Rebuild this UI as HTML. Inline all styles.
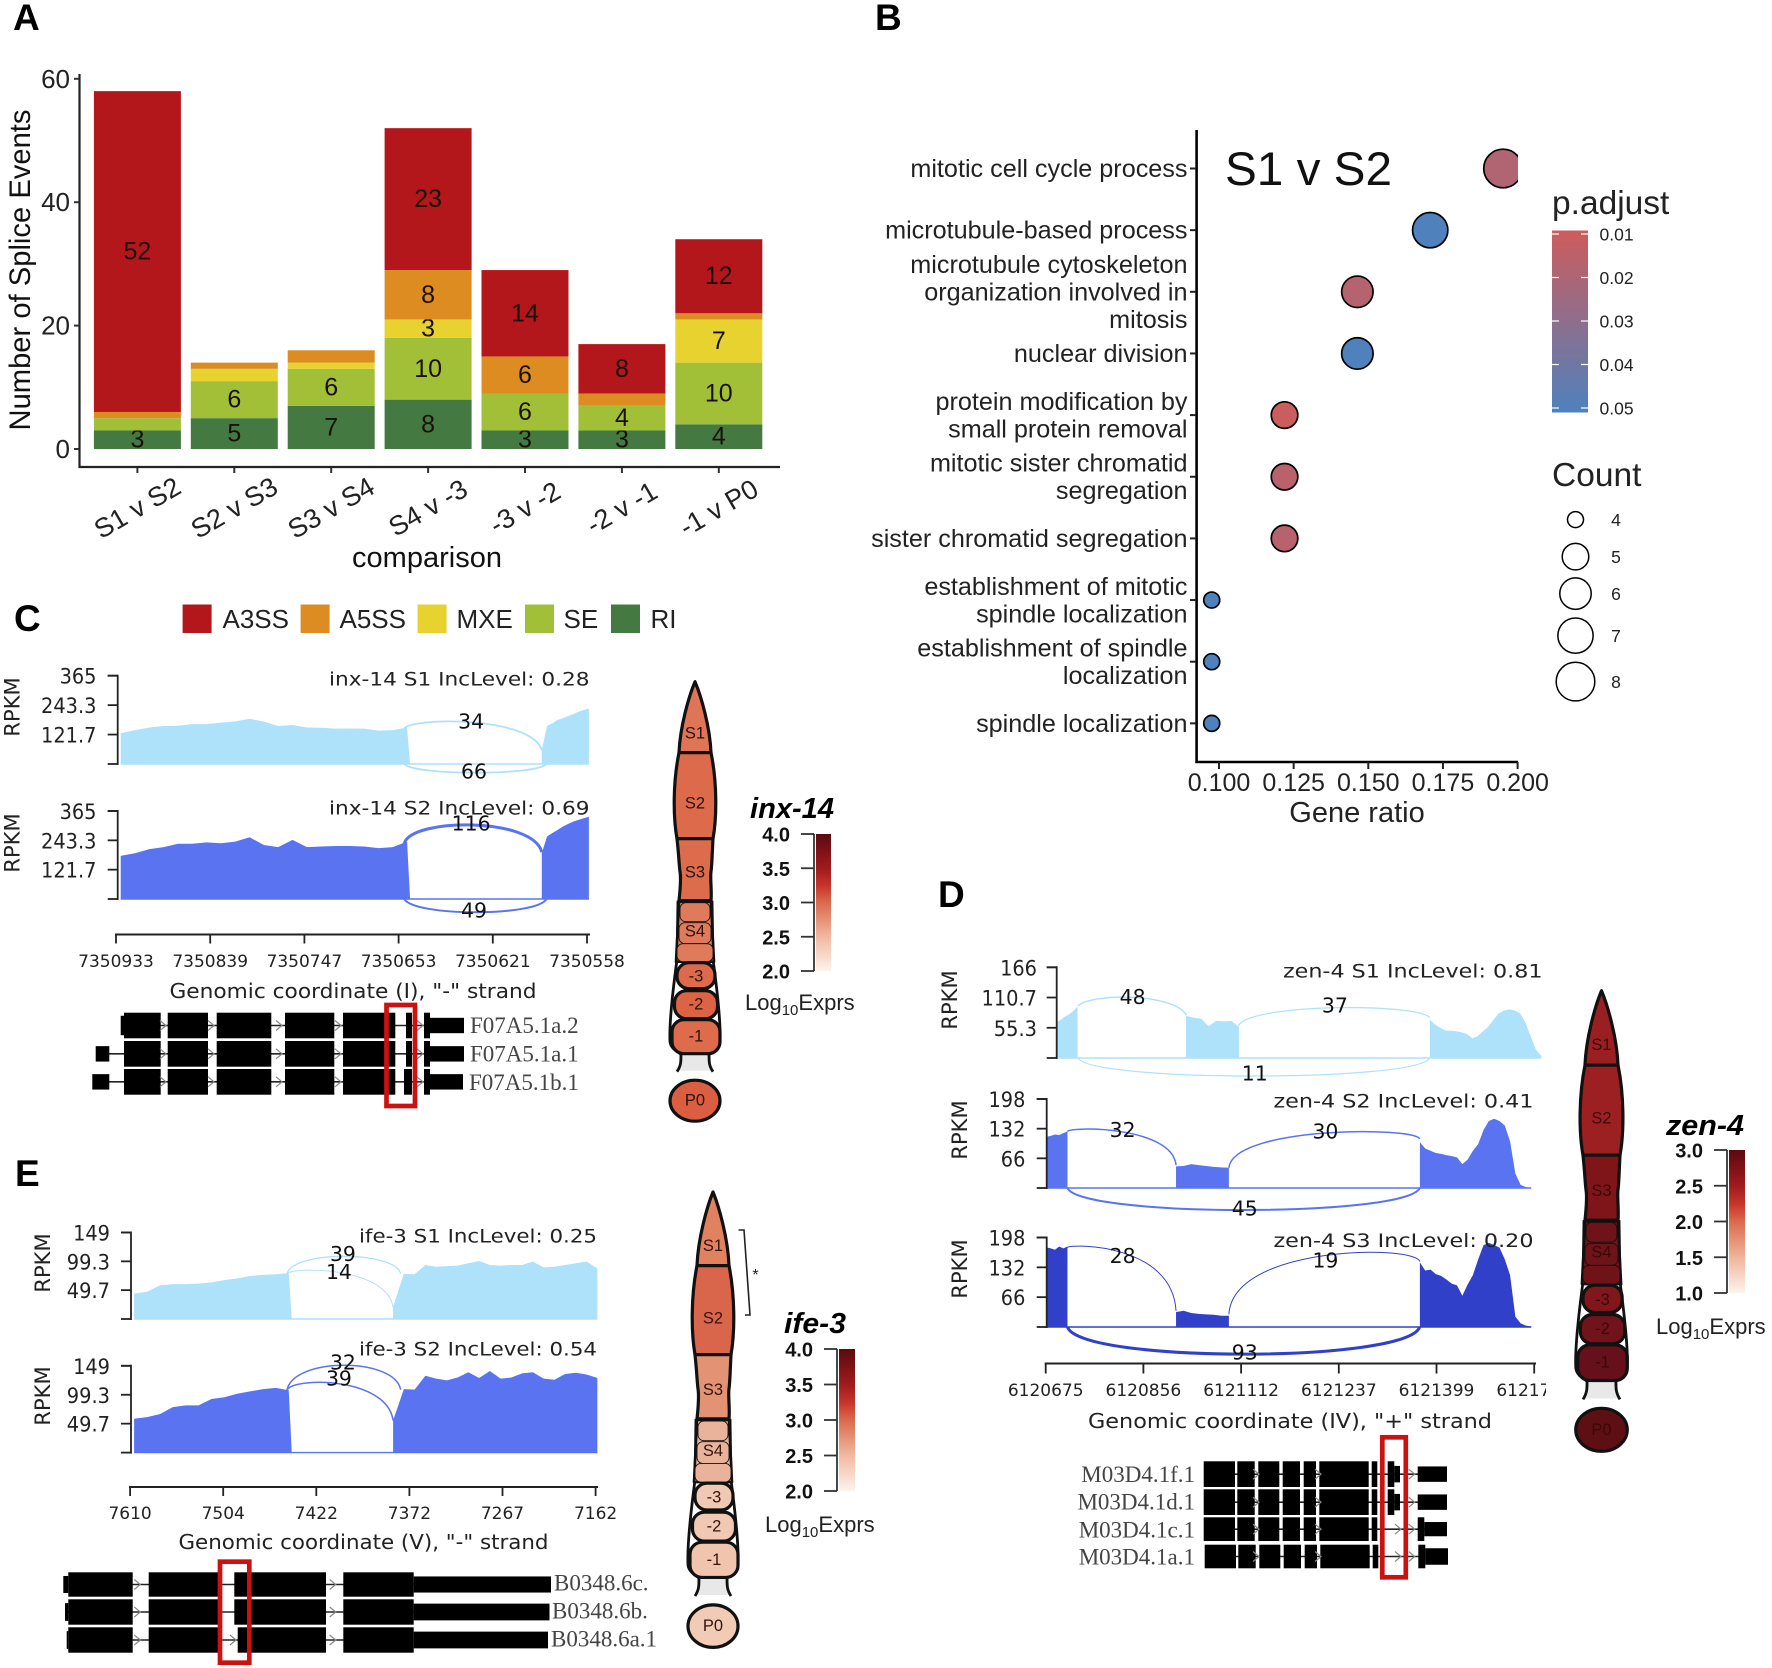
<!DOCTYPE html>
<html lang="en">
<head>
<meta charset="utf-8">
<title>Splice events figure</title>
<style>
html,body{margin:0;padding:0;background:#fff;}
#figure{display:block;width:1772px;height:1668px;}
</style>
</head>
<body>
<svg id="figure" xmlns="http://www.w3.org/2000/svg" width="1772" height="1668" viewBox="0 0 1772 1668">
<defs>
<linearGradient id="pAdjustGradient" x1="0" y1="0" x2="0" y2="1"><stop offset="0" stop-color="#cd5c5c"/><stop offset="1" stop-color="#4f81bd"/></linearGradient>
<linearGradient id="exprGradient" x1="0" y1="0" x2="0" y2="1"><stop offset="0" stop-color="#5a0a10"/><stop offset=".25" stop-color="#a01a1e"/><stop offset=".38" stop-color="#c8352b"/><stop offset=".5" stop-color="#da6a4e"/><stop offset=".75" stop-color="#f0b9a0"/><stop offset="1" stop-color="#fdf3ed"/></linearGradient>
<linearGradient id="exprGradientZen" x1="0" y1="0" x2="0" y2="1"><stop offset="0" stop-color="#5a0a10"/><stop offset=".25" stop-color="#a01a1e"/><stop offset=".38" stop-color="#c8352b"/><stop offset=".5" stop-color="#da6a4e"/><stop offset=".75" stop-color="#efb59b"/><stop offset="1" stop-color="#fdf3ed"/></linearGradient>
<clipPath id="dotClip"><rect x="1196" y="128" width="322" height="640"/></clipPath>
<clipPath id="zenAxisClip"><rect x="1000" y="1375" width="546" height="30"/></clipPath>
<clipPath id="ifeLabelClip"><rect x="540" y="1560" width="117" height="100"/></clipPath>
</defs>
</svg>
<script>
/* ---------- Panel A data ---------- */
const comparisonLabels = ["S1 v S2","S2 v S3","S3 v S4","S4 v -3","-3 v -2","-2 v -1","-1 v P0"];
const riCounts   = [3,5,7,8,3,3,4];
const seCounts   = [2,6,6,10,6,4,10];
const mxeCounts  = [0,2,1,3,0,0,7];
const a5ssCounts = [1,1,2,8,6,2,1];
const a3ssCounts = [52,0,0,23,14,8,12];
const spliceTicks = [0,20,40,60];
const spliceLegendLabels = ["A3SS","A5SS","MXE","SE","RI"];

/* ---------- Panel B data ---------- */
const termLabels = [["mitotic cell cycle process"],["microtubule-based process"],["microtubule cytoskeleton","organization involved in","mitosis"],["nuclear division"],["protein modification by","small protein removal"],["mitotic sister chromatid","segregation"],["sister chromatid segregation"],["establishment of mitotic","spindle localization"],["establishment of spindle","localization"],["spindle localization"]];
const geneCounts = [8,7,6,6,5,5,5,4,4,4];
const geneTotal = 41;
const pAdjustValues = [0.019,0.05,0.018,0.05,0.011,0.016,0.017,0.05,0.05,0.05];
const geneRatioTicks = [0.1,0.125,0.15,0.175,0.2];
const pAdjustTicks = [0.01,0.02,0.03,0.04,0.05];
const countLegend = [4,5,6,7,8];

/* ---------- Panel C data (RPKM per evenly spaced sample) ---------- */
const inxS1Left  = [127,140,151,157,158,165,165,171,176,187,175,157,161,151,150,146,147,146,138,140,151];
const inxS1Right = [58,157,168,182,189,198,206,216,223,230];
const inxS2Left  = [179,190,207,215,229,229,235,231,238,256,224,215,245,215,218,220,220,218,211,215,238];
const inxS2Right = [190,259,273,286,300,311,321,328,335,341];
const inxRpkmTicks = [121.7,243.3,365];
const inxPositions = ["7350933","7350839","7350747","7350653","7350621","7350558"];
const inxS1Junctions = [34,66];
const inxS2Junctions = [116,49];

/* ---------- Panel E data ---------- */
const ifeS1Left  = [44,47,58,60,60,61,63,67,70,74,76,77,79];
const ifeS1Right = [21,78,77,93,90,91,92,96,100,93,92,93,93,99,89,90,93,96,99,87];
const ifeS2Left  = [58,61,66,78,81,81,92,95,101,105,109,111,107];
const ifeS2Right = [55,109,108,132,127,124,129,138,128,140,127,129,136,138,127,125,135,137,134,128];
const ifeRpkmTicks = [49.7,99.3,149];
const ifePositions = ["7610","7504","7422","7372","7267","7162"];
const ifeS1Junctions = [39,14];
const ifeS2Junctions = [32,39];

/* ---------- Panel D data ---------- */
const zenS1Exon1 = [66,70,76,80,86,94];
const zenS1Exon2 = [77,74,72,58,68,67,68,57];
const zenS1Exon3 = [70,61,55,50,50,49,47,44,36,40,49,57,70,82,87,89,87,82,65,40,15,4];
const zenS2Exon1 = [114,116,119,118,122,126];
const zenS2Exon2 = [48,49,53,51,49,47,46,45];
const zenS2Exon3 = [102,88,83,78,76,73,71,68,53,63,83,98,129,149,154,149,139,104,32,7,2,0];
const zenS3Exon1 = [176,174,171,178,174,178];
const zenS3Exon2 = [33,36,31,29,28,27,25,25];
const zenS3Exon3 = [143,125,127,117,113,105,96,92,69,94,115,150,181,186,181,176,150,115,23,8,3,1];
const zenS1RpkmTicks = [55.3,110.7,166];
const zenRpkmTicks = [66,132,198];
const zenPositions = ["6120675","6120856","6121112","6121237","6121399","6121774"];
const zenS1Junctions = [48,37,11];
const zenS2Junctions = [32,30,45];
const zenS3Junctions = [28,19,93];

/* ---------- helpers ---------- */
const NS = "http://www.w3.org/2000/svg";
const root = document.getElementById("figure");
const SANS = '"Liberation Sans", Arial, sans-serif';
const DEJA = '"DejaVu Sans", "Liberation Sans", sans-serif';
const SERIF = '"Liberation Serif", serif';

function add(parent, tag, attrs, name, interactable) {
  const el = document.createElementNS(NS, tag);
  for (const k in attrs) el.setAttribute(k, attrs[k]);
  
  
  parent.appendChild(el);
  return el;
}
function group(parent, name) { return add(parent, "g", {}, name); }
function line(p, x1, y1, x2, y2, stroke, w, name) {
  return add(p, "line", {x1, y1, x2, y2, stroke, "stroke-width": w}, name);
}
function label(p, x, y, str, o, name) {
  const a = {x, y, "font-family": o.family || SANS, "font-size": o.size, fill: o.fill || "#111", "text-anchor": o.anchor || "start"};
  if (o.weight) a["font-weight"] = o.weight;
  if (o.style) a["font-style"] = o.style;
  if (o.central) a["dominant-baseline"] = "central";
  if (o.rotate) a.transform = "rotate(" + o.rotate + " " + x + " " + y + ")";
  if (o.len) { a.textLength = o.len; a.lengthAdjust = "spacingAndGlyphs"; }
  if (o.clip) a["clip-path"] = "url(#" + o.clip + ")";
  const t = add(p, "text", a, name);
  t.textContent = str;
  return t;
}

/* ---------- panel letters ---------- */
const letters = group(root, "panel-letters");
[["A",13,30],["B",875,30],["C",14,631],["D",938,907],["E",15,1186]].forEach(function (d) {
  label(letters, d[1], d[2], d[0], {size: 37, weight: "bold", fill: "#000"}, "panel-letter-" + d[0].toLowerCase());
});

/* ---------- Panel A ---------- */
(function () {
  const g = group(root, "splice-events-bar-chart");
  const yA = function (v) { return 449 - v * 6.17; };
  const xA = function (i) { return 137.4 + i * 96.9; };
  const bw = 87;
  const series = [
    {vals: riCounts, color: "#447a42", name: "ri"},
    {vals: seCounts, color: "#a2c037", name: "se"},
    {vals: mxeCounts, color: "#e7d22f", name: "mxe"},
    {vals: a5ssCounts, color: "#dc8c20", name: "a5ss"},
    {vals: a3ssCounts, color: "#b4171b", name: "a3ss"}
  ];
  comparisonLabels.forEach(function (c, i) {
    let acc = 0;
    series.forEach(function (s) {
      const v = s.vals[i];
      if (v > 0) {
        add(g, "rect", {x: xA(i) - bw / 2, y: yA(acc + v), width: bw, height: yA(acc) - yA(acc + v), fill: s.color}, "bar-" + s.name + "-" + i);
        if (v >= 3) label(g, xA(i), yA(acc + v / 2), v, {size: 25, anchor: "middle", central: true, fill: "#1a1008"}, "bar-value-" + s.name + "-" + i);
      }
      acc += v;
    });
    line(g, xA(i), 467, xA(i), 473, "#333", 2, "x-tick-" + i);
    label(g, xA(i), 508, c, {size: 27, anchor: "middle", central: true, rotate: -30, fill: "#222"}, "x-tick-label-" + i);
  });
  line(g, 79.5, 74, 79.5, 468, "#222", 2.2, "y-axis-line");
  line(g, 78.5, 467, 780, 467, "#222", 2.2, "x-axis-line");
  spliceTicks.forEach(function (t) {
    line(g, 74, yA(t), 79, yA(t), "#333", 2, "y-tick-" + t);
    label(g, 70, yA(t) + 9, t, {size: 26, anchor: "end", fill: "#222"}, "y-tick-label-" + t);
  });
  label(g, 30, 270, "Number of Splice Events", {size: 30, anchor: "middle", rotate: -90, len: 321}, "y-axis-title");
  label(g, 427, 567, "comparison", {size: 29, anchor: "middle"}, "x-axis-title");
  const lg = group(g, "splice-type-legend");
  const swatchX = [182.6, 300.6, 417.6, 525, 611];
  const textX = [222.5, 339.5, 456.5, 563.5, 650.5];
  const swatchColors = ["#b4171b", "#dc8c20", "#e7d22f", "#a2c037", "#447a42"];
  spliceLegendLabels.forEach(function (s, i) {
    add(lg, "rect", {x: swatchX[i], y: 604.5, width: 29, height: 28.5, fill: swatchColors[i]}, "legend-swatch-" + s.toLowerCase());
    label(lg, textX[i], 628, s, {size: 26, fill: "#222"}, "legend-label-" + s.toLowerCase());
  });
})();

/* ---------- Panel B ---------- */
(function () {
  const g = group(root, "gene-ratio-dot-plot");
  const xB = function (r) { return 1219 + (r - 0.1) * 2986; };
  const yB = function (i) { return 168.5 + i * 61.65; };
  const rad = function (k) { return 8 + 11.3 * Math.pow((k - 4) / 4, 0.55); };
  const mix = function (p) {
    const t = Math.min(1, Math.max(0, (p - 0.01) / 0.04));
    const a = [205, 92, 92], b = [79, 129, 189];
    return "rgb(" + a.map(function (c, j) { return Math.round(c + (b[j] - c) * t); }).join(",") + ")";
  };
  line(g, 1196.6, 130, 1196.6, 763, "#000", 2.6, "y-axis-line");
  line(g, 1195.4, 762, 1518, 762, "#000", 2.6, "x-axis-line");
  const marks = group(g, "dots");
  marks.setAttribute("clip-path", "url(#dotClip)");
  termLabels.forEach(function (lines, i) {
    line(g, 1190, yB(i), 1196, yB(i), "#222", 2, "y-tick-" + i);
    lines.forEach(function (s, j) {
      label(g, 1187.5, yB(i) + 8.5 + (j - (lines.length - 1) / 2) * 27.5, s, {size: 25.2, anchor: "end", fill: "#222"}, "term-label-" + i + "-" + j);
    });
    add(marks, "circle", {cx: xB(geneCounts[i] / geneTotal), cy: yB(i), r: rad(geneCounts[i]), fill: mix(pAdjustValues[i]), stroke: "#000", "stroke-width": 1.7}, "dot-" + i);
  });
  geneRatioTicks.forEach(function (t) {
    line(g, xB(t), 762, xB(t), 769, "#222", 2, "x-tick-" + t);
    label(g, xB(t), 791, t.toFixed(3), {size: 25, anchor: "middle", fill: "#222"}, "x-tick-label-" + t);
  });
  label(g, 1357, 822, "Gene ratio", {size: 29, anchor: "middle", fill: "#222"}, "x-axis-title");
  label(g, 1225, 185, "S1 v S2", {size: 47.7, fill: "#111"}, "plot-title");
  label(g, 1552, 214, "p.adjust", {size: 33.5, fill: "#222"}, "p-adjust-legend-title");
  add(g, "rect", {x: 1552, y: 230.5, width: 36, height: 182, fill: "url(#pAdjustGradient)"}, "p-adjust-colorbar");
  pAdjustTicks.forEach(function (t) {
    const y = 234 + (t - 0.01) / 0.04 * 174;
    line(g, 1552, y, 1559, y, "#fff", 1.2, "colorbar-tick-left-" + t);
    line(g, 1581, y, 1588, y, "#fff", 1.2, "colorbar-tick-right-" + t);
    label(g, 1599.5, y + 6.5, t.toFixed(2), {size: 17.5, fill: "#222"}, "colorbar-label-" + t);
  });
  label(g, 1552, 486, "Count", {size: 33.5, fill: "#222"}, "count-legend-title");
  const legendY = [519.6, 556.6, 593.6, 635.6, 681.6];
  countLegend.forEach(function (k, i) {
    add(g, "circle", {cx: 1575.5, cy: legendY[i], r: rad(k), fill: "#fff", stroke: "#000", "stroke-width": 1.5}, "count-legend-dot-" + k);
    label(g, 1616, legendY[i] + 6.5, k, {size: 17.5, anchor: "middle", fill: "#222"}, "count-legend-label-" + k);
  });
})();

/* ---------- sashimi tracks ---------- */
function drawTrack(p, c) {
  const g = group(p, c.name);
  const y = function (r) { return c.base - (r / c.max) * (c.base - c.top); };
  const x = function (u) { return c.x0 + u * c.step; };
  line(g, x(c.exons[0][0]), c.base, x(c.exons[c.exons.length - 1][1]), c.base, c.color, 1.4, "intron-baseline");
  c.exons.forEach(function (e, k) {
    let d = "M" + x(e[0]) + " " + c.base;
    e[2].forEach(function (v, i) {
      d += "L" + (x(e[0]) + (x(e[1]) - x(e[0])) * i / (e[2].length - 1)) + " " + y(v);
    });
    d += "L" + (x(e[1]) + (e[3] || 0)) + " " + c.base + "Z";
    add(g, "path", {d: d, fill: c.color}, "coverage-exon-" + k);
  });
  c.junctions.forEach(function (j, k) {
    const c1 = (8 * j.peak - j.s - j.e) / 6;
    const d = "M" + x(j.from) + " " + y(j.s) + "C" + (x(j.from) + (j.pull || 0)) + " " + y(c1) + " " + (x(j.to) - (j.pull || 0)) + " " + y(c1) + " " + x(j.to) + " " + y(j.e);
    add(g, "path", {d: d, fill: "none", stroke: c.color, "stroke-width": j.w}, "junction-arc-" + k);
  });
  c.junctions.forEach(function (j, k) {
    label(g, x(j.lu), y(j.lr), j.count, {size: 20.4, family: DEJA, anchor: "middle", central: true, fill: "#111"}, "junction-count-" + k);
  });
  line(g, c.axisX, c.top - 1, c.axisX, c.base + 1, "#222", 1.8, "rpkm-axis");
  line(g, c.axisX - 10, c.top, c.axisX, c.top, "#222", 1.8, "rpkm-tick-top");
  line(g, c.axisX - 10, c.base, c.axisX, c.base, "#222", 1.8, "rpkm-tick-zero");
  c.ticks.forEach(function (t) {
    line(g, c.axisX - 10, y(t), c.axisX, y(t), "#222", 1.8, "rpkm-tick-" + t);
    label(g, c.labelX, y(t) + 8, t, {size: 21, family: DEJA, anchor: "end", fill: "#222", len: String(t).length * 12.3 - (String(t).indexOf(".") > 0 ? 6 : 0)}, "rpkm-tick-label-" + t);
  });
  label(g, c.rpkmX, c.rpkmY, "RPKM", {size: 21, family: DEJA, anchor: "middle", central: true, rotate: -90, fill: "#222"}, "rpkm-axis-title");
  label(g, c.tx1, c.tb, c.title, {size: 19, family: DEJA, fill: "#222", len: c.tx2 - c.tx1}, "track-title");
}
function drawXAxis(p, c) {
  const g = group(p, c.name);
  line(g, c.x0 - 1, c.y, c.x1, c.y, "#222", 2, "genomic-axis-line");
  c.labels.forEach(function (s, i) {
    const x = c.x0 + i * c.step;
    line(g, x, c.y, x, c.y + c.tick, "#222", 1.8, "genomic-tick-" + i);
    label(g, x, c.labelBase, s, {size: c.size, family: DEJA, anchor: "middle", fill: "#222", clip: c.clip && i === c.labels.length - 1 ? c.clip : null}, "genomic-tick-label-" + i);
  });
  label(g, c.tcx, c.tb, c.title, {size: 20, family: DEJA, anchor: "middle", fill: "#222", len: c.tw}, "genomic-axis-title");
}
function drawTranscripts(p, c) {
  const g = group(p, c.name);
  c.rows.forEach(function (r, i) {
    const mid = (r.top + r.bottom) / 2;
    line(g, r.lineFrom, mid, r.lineTo, mid, "#222", 1.6, "intron-line-" + i);
    r.blocks.forEach(function (b, k) {
      add(g, "rect", {x: b[0], y: r.top, width: b[1] - b[0], height: r.bottom - r.top, fill: "#000"}, "exon-" + i + "-" + k);
    });
    (r.narrow || []).forEach(function (b, k) {
      const ih = (r.bottom - r.top) * (b[2] === undefined ? 0.2 : b[2]);
      add(g, "rect", {x: b[0], y: r.top + ih, width: b[1] - b[0], height: r.bottom - r.top - 2 * ih, fill: "#000"}, "utr-" + i + "-" + k);
    });
    (r.arrows || []).forEach(function (a, k) {
      add(g, "path", {d: "M" + (a - 3) + " " + (mid - 5) + "L" + (a + 3) + " " + mid + "L" + (a - 3) + " " + (mid + 5), fill: "none", stroke: "#888", "stroke-width": 1.2}, "strand-arrow-" + i + "-" + k);
    });
    label(g, r.lx, r.ly, r.label, {size: 23, family: SERIF, anchor: c.anchor || "start", fill: "#444", clip: r.clip}, "transcript-label-" + i);
  });
  add(g, "rect", {x: c.box[0], y: c.box[1], width: c.box[2], height: c.box[3], fill: "none", stroke: "#cc1111", "stroke-width": 4.7}, "highlight-box");
}

/* ---------- germline worm + colour bar ---------- */
function drawWorm(p, c) {
  const g = group(p, c.name);
  const X = function (u) { return (c.cx + u * c.sx).toFixed(1); };
  const Y = function (v) { return (c.top + v * c.sy).toFixed(1); };
  const pt = function (u, v) { return X(u) + " " + Y(v); };
  const bk = "#111";
  add(g, "rect", {x: X(-16), y: Y(372), width: 32 * c.sx, height: 17 * c.sy, fill: "#e8e8e8"}, "spermatheca");
  [-1, 1].forEach(function (s) {
    const d = "M" + pt(s * 17, 219) + "L" + pt(s * 18, 278) + "C" + pt(s * 21, 300) + " " + pt(s * 26, 340) + " " + pt(s * 25, 360) + "C" + pt(s * 24, 368) + " " + pt(s * 16, 370) + " " + pt(s * 14, 373) + "C" + pt(s * 14, 380) + " " + pt(s * 14, 384) + " " + pt(s * 18, 390);
    add(g, "path", {d: d, fill: "none", stroke: bk, "stroke-width": 2.8}, s < 0 ? "sheath-left" : "sheath-right");
  });
  add(g, "path", {d: "M" + pt(0, 0) + "C" + pt(-6, 14) + " " + pt(-15, 45) + " " + pt(-16, 71) + "L" + pt(16, 71) + "C" + pt(15, 45) + " " + pt(6, 14) + " " + pt(0, 0) + "Z", fill: c.colors[0], stroke: bk, "stroke-width": 3.2, "stroke-linejoin": "round"}, "cell-s1");
  add(g, "path", {d: "M" + pt(-16, 71) + "C" + pt(-22, 100) + " " + pt(-22, 135) + " " + pt(-18, 157) + "L" + pt(18, 157) + "C" + pt(22, 135) + " " + pt(22, 100) + " " + pt(16, 71) + "Z", fill: c.colors[1], stroke: bk, "stroke-width": 3.2, "stroke-linejoin": "round"}, "cell-s2");
  add(g, "path", {d: "M" + pt(-18, 157) + "C" + pt(-16, 175) + " " + pt(-16, 183) + " " + pt(-15, 190) + "C" + pt(-14, 196) + " " + pt(-15, 210) + " " + pt(-16, 219) + "L" + pt(16, 219) + "C" + pt(17, 210) + " " + pt(15, 196) + " " + pt(16, 190) + "C" + pt(17, 183) + " " + pt(17, 175) + " " + pt(18, 157) + "Z", fill: c.colors[2], stroke: bk, "stroke-width": 3.2, "stroke-linejoin": "round"}, "cell-s3");
  add(g, "path", {d: "M" + pt(-16, 220) + "L" + pt(-19, 280) + "L" + pt(19, 280) + "L" + pt(16, 220) + "Z", fill: c.colors[3], stroke: bk, "stroke-width": 2.6, "stroke-linejoin": "round"}, "cell-s4-body");
  [[221, 19, 15, "s4-cell-top"], [241, 21, 16, "s4-cell-middle"], [262, 18, 18, "s4-cell-bottom"]].forEach(function (k) {
    add(g, "rect", {x: X(-k[2]), y: Y(k[0]), width: 2 * k[2] * c.sx, height: k[1] * c.sy, rx: 6, ry: 6, fill: c.colors[3], stroke: bk, "stroke-width": 0.9}, k[3]);
  });
  const cells = [[1, 294, 19, 13, 4, "cell-minus-3"], [1, 323, 21.5, 14, 5, "cell-minus-2"], [1, 355, 24, 17, 6, "cell-minus-1"]];
  cells.forEach(function (k) {
    add(g, "rect", {x: X(k[0] - k[2]), y: Y(k[1] - k[3]), width: 2 * k[2] * c.sx, height: 2 * k[3] * c.sy, rx: 12, ry: 12, fill: c.colors[k[4]], stroke: bk, "stroke-width": 3.2}, k[5]);
  });
  add(g, "ellipse", {cx: X(0), cy: Y(419), rx: 25 * c.sx, ry: 20.5 * c.sy, fill: c.colors[7], stroke: bk, "stroke-width": 3.2}, "cell-p0");
  const names = ["S1", "S2", "S3", "S4", "-3", "-2", "-1", "P0"];
  const vs = [52, 122, 191, 250, 295, 323, 355, 419];
  names.forEach(function (n, i) {
    label(g, X(i > 3 && i < 7 ? 1 : 0), Y(vs[i]), n, {size: 16.5, anchor: "middle", central: true, fill: c.textFill}, "worm-label-" + n.toLowerCase());
  });
  const b = c.bar;
  const cb = group(g, "expression-colorbar");
  add(cb, "rect", {x: b.x, y: b.y1, width: b.w, height: b.y2 - b.y1, fill: "url(#" + b.grad + ")"}, "colorbar");
  line(cb, b.x - 2, b.y1, b.x - 2, b.y2, "#333", 1.8, "colorbar-axis");
  b.ticks.forEach(function (t, i) {
    const y = b.y1 + (b.y2 - b.y1) * i / (b.ticks.length - 1);
    line(cb, b.x - 15, y, b.x - 2, y, "#333", 1.8, "colorbar-tick-" + t);
    label(cb, b.x - 26, y + 7.5, t, {size: 20, weight: "bold", anchor: "end", fill: "#111"}, "colorbar-label-" + t);
  });
  label(cb, b.titleX, b.titleY, b.title, {size: 29, weight: "bold", style: "italic", fill: "#000", len: b.titleW}, "gene-title");
  const cap = label(cb, b.capX, b.capY, "Log", {size: 22, fill: "#222"}, "colorbar-caption");
  const s1 = document.createElementNS(NS, "tspan");
  s1.setAttribute("font-size", "15");
  s1.setAttribute("dy", "5");
  s1.textContent = "10";
  cap.appendChild(s1);
  const s2 = document.createElementNS(NS, "tspan");
  s2.setAttribute("dy", "-5");
  s2.textContent = "Exprs";
  cap.appendChild(s2);
}

/* ---------- Panel C ---------- */
(function () {
  const g = group(root, "panel-c-inx-14");
  const base = {axisX: 117.7, x0: 116, step: 94.2, max: 365, ticks: inxRpkmTicks, labelX: 96.5, rpkmX: 12.3, tx1: 329, tx2: 589.5};
  drawTrack(g, Object.assign({}, base, {
    name: "inx-14-s1-track", top: 675.7, base: 764, color: "#aee2fa", rpkmY: 707, title: "inx-14 S1 IncLevel: 0.28", tb: 685.5,
    exons: [[0.05, 3.09, inxS1Left, 3], [4.52, 5.02, inxS1Right]],
    junctions: [
      {from: 3.06, to: 4.52, s: 147, e: 58, peak: 172, w: 1.8, count: inxS1Junctions[0], lu: 3.77, lr: 175, pull: 10},
      {from: 3.06, to: 4.57, s: 0, e: 0, peak: -36, w: 1.8, count: inxS1Junctions[1], lu: 3.8, lr: -32, pull: 10}
    ]
  }));
  drawTrack(g, Object.assign({}, base, {
    name: "inx-14-s2-track", top: 811, base: 899, color: "#5a73f1", rpkmY: 843, title: "inx-14 S2 IncLevel: 0.69", tb: 814.5,
    exons: [[0.05, 3.09, inxS2Left, 3], [4.52, 5.02, inxS2Right]],
    junctions: [
      {from: 3.06, to: 4.52, s: 231, e: 194, peak: 307, w: 3, count: inxS2Junctions[0], lu: 3.77, lr: 314, pull: 8},
      {from: 3.06, to: 4.57, s: 0, e: 0, peak: -55, w: 2, count: inxS2Junctions[1], lu: 3.8, lr: -48, pull: 10}
    ]
  }));
  drawXAxis(g, {name: "inx-14-genomic-axis", x0: 116, x1: 590, step: 94.2, y: 934.5, tick: 9, labels: inxPositions, labelBase: 967, size: 17, title: 'Genomic coordinate (I), "-" strand', tcx: 353, tb: 998, tw: 367});
  const blocks = [[124,160.7],[167.7,208],[216.7,271.3],[285,334.3],[343,395.3],[406,412],[424,430]];
  const blocks3 = [[124,160.7],[167.7,208],[216.7,271.3],[285,334.3],[343,395.3],[404,412],[424,430]];
  const arrows = [163,211,279,338,420];
  drawTranscripts(g, {name: "inx-14-transcripts", box: [386.5, 1005, 28.5, 101], rows: [
    {top: 1012.7, bottom: 1038.3, lineFrom: 121, lineTo: 430, blocks: blocks, narrow: [[430,464],[120.7,124,0.12]], arrows: arrows, label: "F07A5.1a.2", lx: 470, ly: 1033},
    {top: 1041, bottom: 1066.7, lineFrom: 100, lineTo: 430, blocks: blocks, narrow: [[430,464],[95.7,109.3,0.2]], arrows: arrows, label: "F07A5.1a.1", lx: 470, ly: 1061.5},
    {top: 1069, bottom: 1094.7, lineFrom: 95, lineTo: 430, blocks: blocks3, narrow: [[430,463],[92.3,109.3,0.2]], arrows: arrows, label: "F07A5.1b.1", lx: 469, ly: 1090}
  ]});
  drawWorm(g, {name: "inx-14-germline", cx: 695, top: 681.7, sx: 1, sy: 1, textFill: "#2a120c",
    colors: ["#de7556","#dd6a4b","#dd6c4c","#df7a5a","#dc6a4b","#dc6444","#dd6b4c","#dc5e40"],
    bar: {x: 816, w: 15, y1: 834, y2: 971, grad: "exprGradient", ticks: ["4.0","3.5","3.0","2.5","2.0"], title: "inx-14", titleX: 750, titleY: 818, titleW: 84, capX: 745, capY: 1010}});
})();

/* ---------- Panel E ---------- */
(function () {
  const g = group(root, "panel-e-ife-3");
  const base = {axisX: 131, x0: 130.1, step: 93.1, max: 149, ticks: ifeRpkmTicks, labelX: 110, rpkmX: 43, tx1: 359, tx2: 597};
  drawTrack(g, Object.assign({}, base, {
    name: "ife-3-s1-track", top: 1232.5, base: 1319, color: "#aee2fa", rpkmY: 1263, title: "ife-3 S1 IncLevel: 0.25", tb: 1242.5,
    exons: [[0.043, 1.704, ifeS1Left, 3], [2.825, 5.019, ifeS1Right]],
    junctions: [
      {from: 1.685, to: 2.906, s: 78, e: 78, peak: 108, w: 1.3, count: ifeS1Junctions[0], lu: 2.286, lr: 112, pull: 6},
      {from: 1.685, to: 2.825, s: 78, e: 20, peak: 80, w: 1, count: ifeS1Junctions[1], lu: 2.243, lr: 81, pull: 6}
    ]
  }));
  drawTrack(g, Object.assign({}, base, {
    name: "ife-3-s2-track", top: 1365.8, base: 1452.6, color: "#5a73f1", rpkmY: 1396, title: "ife-3 S2 IncLevel: 0.54", tb: 1355.4,
    exons: [[0.043, 1.704, ifeS2Left, 3], [2.825, 5.019, ifeS2Right]],
    junctions: [
      {from: 1.685, to: 2.906, s: 107, e: 108, peak: 150, w: 1.5, count: ifeS2Junctions[0], lu: 2.286, lr: 155, pull: 6},
      {from: 1.685, to: 2.825, s: 107, e: 55, peak: 118, w: 1.5, count: ifeS2Junctions[1], lu: 2.243, lr: 127, pull: 6}
    ]
  }));
  drawXAxis(g, {name: "ife-3-genomic-axis", x0: 130.1, x1: 598, step: 93.1, y: 1487, tick: 9, labels: ifePositions, labelBase: 1519, size: 17, title: 'Genomic coordinate (V), "-" strand', tcx: 363.5, tb: 1549, tw: 370});
  const arrows = [137.3,332.7];
  drawTranscripts(g, {name: "ife-3-transcripts", box: [220, 1561.7, 29.3, 101], rows: [
    {top: 1572.3, bottom: 1596.7, lineFrom: 68, lineTo: 414, blocks: [[68.3,132.7],[148.7,220.7],[234.3,326],[343.3,413.7]], narrow: [[413.7,551,0.17],[63.3,68.3,0.15]], arrows: arrows, label: "B0348.6c.", lx: 554, ly: 1590.5},
    {top: 1599.3, bottom: 1624.7, lineFrom: 68, lineTo: 414, blocks: [[68.3,132.7],[148.7,220.7],[234.3,326],[343.3,413.7]], narrow: [[413.7,549.5,0.17],[65,68.3,0.15]], arrows: arrows, label: "B0348.6b.", lx: 552, ly: 1618.5},
    {top: 1627.3, bottom: 1652.7, lineFrom: 68, lineTo: 414, blocks: [[68.3,132.7],[148.7,220.7],[237.7,326],[343.3,413.7]], narrow: [[413.7,548,0.17],[66.7,68.3,0.15]], arrows: [137.3,233,332.7], label: "B0348.6a.1", lx: 551, ly: 1646.5, clip: "ifeLabelClip"}
  ]});
  drawWorm(g, {name: "ife-3-germline", cx: 713, top: 1192, sx: 1, sy: 1.036, textFill: "#33150c",
    colors: ["#e0825f","#d9664a","#e39274","#e9b39b","#f0c9b5","#f0c8b4","#f0c4ad","#f2cbb6"],
    bar: {x: 839, w: 16, y1: 1349, y2: 1491, grad: "exprGradient", ticks: ["4.0","3.5","3.0","2.5","2.0"], title: "ife-3", titleX: 784, titleY: 1333, titleW: 62, capX: 765, capY: 1532}});
  add(g, "path", {d: "M738.6 1230L744 1230L750 1315L745 1315", fill: "none", stroke: "#222", "stroke-width": 1.6}, "significance-bracket");
  label(g, 755.5, 1280, "*", {size: 16, anchor: "middle", fill: "#222"}, "significance-star");
})();

/* ---------- Panel D ---------- */
(function () {
  const g = group(root, "panel-d-zen-4");
  const e1 = [0.01, 0.223], e2 = [1.334, 1.875], e3 = [3.83, 4.97];
  const common = {step: 97.7, tx1: 1273.5, tx2: 1533.5};
  drawTrack(g, Object.assign({}, common, {
    name: "zen-4-s1-track", axisX: 1056.7, x0: 1055.7, top: 967.3, base: 1058, max: 166, ticks: zenS1RpkmTicks, labelX: 1037, rpkmX: 950, rpkmY: 1000, color: "#aee2fa",
    title: "zen-4 S1 IncLevel: 0.81", tx1: 1283, tx2: 1542.5, tb: 977.5,
    exons: [[e1[0], e1[1], zenS1Exon1], [e2[0], e2[1], zenS1Exon2], [e3[0], e3[1], zenS1Exon3]],
    junctions: [
      {from: 0.229, to: 1.339, s: 95, e: 78, peak: 111, w: 1.5, count: zenS1Junctions[0], lu: 0.787, lr: 112, pull: 12},
      {from: 1.869, to: 3.828, s: 59, e: 74, peak: 92, w: 1.3, count: zenS1Junctions[1], lu: 2.857, lr: 96, pull: 12},
      {from: 0.229, to: 3.828, s: 0, e: 0, peak: -33, w: 1.2, count: zenS1Junctions[2], lu: 2.037, lr: -28, pull: 12}
    ]
  }));
  drawTrack(g, Object.assign({}, common, {
    name: "zen-4-s2-track", axisX: 1046.7, x0: 1045.7, top: 1099, base: 1188, max: 198, ticks: zenRpkmTicks, labelX: 1025.4, rpkmX: 960, rpkmY: 1130, color: "#5a73f1",
    title: "zen-4 S2 IncLevel: 0.41", tb: 1107.7,
    exons: [[e1[0], e1[1], zenS2Exon1], [e2[0], e2[1], zenS2Exon2], [e3[0], e3[1], zenS2Exon3]],
    junctions: [
      {from: 0.223, to: 1.334, s: 126, e: 51, peak: 125, w: 1.5, count: zenS2Junctions[0], lu: 0.787, lr: 129, pull: 4},
      {from: 1.875, to: 3.828, s: 45, e: 109, peak: 122, w: 1.5, count: zenS2Junctions[1], lu: 2.863, lr: 126, pull: 4},
      {from: 0.223, to: 3.828, s: 0, e: 0, peak: -49, w: 2, count: zenS2Junctions[2], lu: 2.037, lr: -46, pull: 12}
    ]
  }));
  drawTrack(g, Object.assign({}, common, {
    name: "zen-4-s3-track", axisX: 1046.7, x0: 1045.7, top: 1237.5, base: 1327, max: 198, ticks: zenRpkmTicks, labelX: 1025.4, rpkmX: 960, rpkmY: 1269, color: "#3140c8",
    title: "zen-4 S3 IncLevel: 0.20", tb: 1247,
    exons: [[e1[0], e1[1], zenS3Exon1], [e2[0], e2[1], zenS3Exon2], [e3[0], e3[1], zenS3Exon3]],
    junctions: [
      {from: 0.223, to: 1.334, s: 176, e: 36, peak: 165, w: 1, count: zenS3Junctions[0], lu: 0.787, lr: 157, pull: 4},
      {from: 1.875, to: 3.828, s: 28, e: 145, peak: 158, w: 1, count: zenS3Junctions[1], lu: 2.863, lr: 147, pull: 4},
      {from: 0.223, to: 3.828, s: 0, e: 0, peak: -60, w: 3, count: zenS3Junctions[2], lu: 2.037, lr: -56, pull: 12}
    ]
  }));
  drawXAxis(g, {name: "zen-4-genomic-axis", x0: 1045.7, x1: 1536, step: 97.7, y: 1363.5, tick: 10, labels: zenPositions, labelBase: 1396, size: 17, clip: "zenAxisClip", title: 'Genomic coordinate (IV), "+" strand', tcx: 1290, tb: 1428, tw: 404});
  const bl = [[1203.7,1235],[1237.3,1254.7],[1258.3,1279.3],[1282.7,1300],[1303.7,1316],[1319.3,1368.7],[1371.7,1377.3]];
  const bl4 = [[1204.7,1236],[1238.3,1255.7],[1259.3,1280.3],[1283.7,1301],[1304.7,1317],[1320.3,1369.7],[1372.7,1378.3]];
  const a1 = [1256,1318,1411.7], a2 = [1256,1318,1398,1411.7];
  drawTranscripts(g, {name: "zen-4-transcripts", anchor: "end", box: [1382.3, 1437.3, 23.5, 140], rows: [
    {top: 1461.3, bottom: 1487, lineFrom: 1204, lineTo: 1447, blocks: bl.concat([[1387.7,1394.3]]), narrow: [[1394.3,1400,0.18],[1417.7,1447,0.2]], arrows: a1, label: "M03D4.1f.1", lx: 1195, ly: 1482},
    {top: 1489.3, bottom: 1515, lineFrom: 1204, lineTo: 1447, blocks: bl.concat([[1387.7,1394.3]]), narrow: [[1394.3,1400,0.18],[1417.7,1447,0.2]], arrows: a1, label: "M03D4.1d.1", lx: 1195, ly: 1509.5},
    {top: 1517.3, bottom: 1541, lineFrom: 1204, lineTo: 1447, blocks: bl.concat([[1417.7,1424.3]]), narrow: [[1424.3,1447,0.2]], arrows: a2, label: "M03D4.1c.1", lx: 1195, ly: 1537.5},
    {top: 1544.7, bottom: 1568.3, lineFrom: 1205, lineTo: 1448, blocks: bl4.concat([[1418.3,1425.3]]), narrow: [[1425.3,1448,0.15]], arrows: a2, label: "M03D4.1a.1", lx: 1195, ly: 1564.5}
  ]});
  drawWorm(g, {name: "zen-4-germline", cx: 1601.5, top: 990.7, sx: 1.03, sy: 1.048, textFill: "#3a0808",
    colors: ["#9a1f22","#9c2022","#7f1519","#6e1318","#82171b","#70131a","#65101a","#5e0f14"],
    bar: {x: 1729, w: 16, y1: 1150, y2: 1293, grad: "exprGradientZen", ticks: ["3.0","2.5","2.0","1.5","1.0"], title: "zen-4", titleX: 1666, titleY: 1135, titleW: 78, capX: 1656, capY: 1334}});
})();
</script>
</body>
</html>
